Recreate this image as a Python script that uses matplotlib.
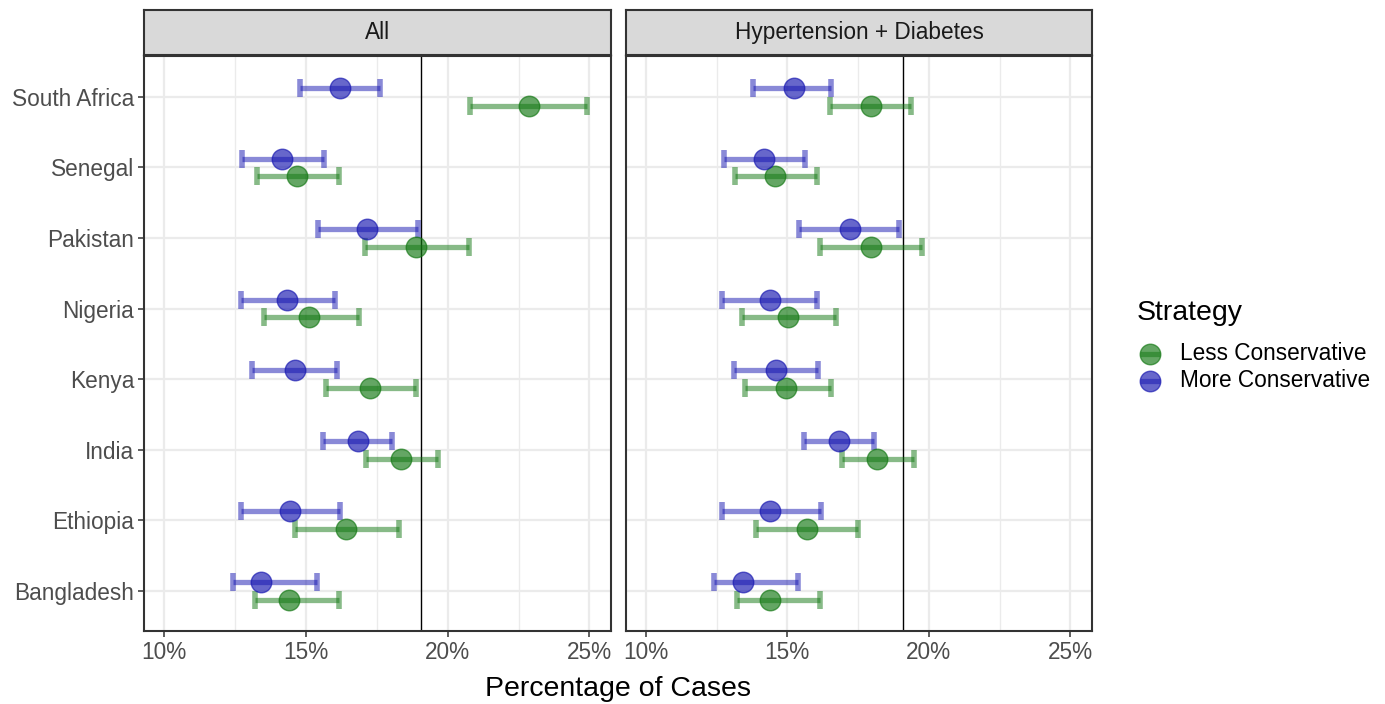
import matplotlib
matplotlib.use('Agg')
import matplotlib.pyplot as plt
from matplotlib.lines import Line2D
from matplotlib.ticker import FuncFormatter, MultipleLocator
import numpy as np

plt.rcParams['font.family'] = ['Liberation Sans', 'DejaVu Sans']

countries = ["Bangladesh", "Ethiopia", "India", "Kenya", "Nigeria",
             "Pakistan", "Senegal", "South Africa"]
panels = ["All", "Hypertension + Diabetes"]
strategies = ["Less Conservative", "More Conservative"]
threshold = 19.07  # percent

# panel "All"
all_more_est = [13.43, 14.46, 16.83, 14.62, 14.33, 17.17, 14.17, 16.21]
all_more_lo = [12.45, 12.72, 15.60, 13.12, 12.72, 15.43, 12.77, 14.81]
all_more_hi = [15.39, 16.21, 18.03, 16.11, 16.04, 18.96, 15.64, 17.62]
all_less_est = [14.40, 16.43, 18.35, 17.28, 15.13, 18.87, 14.68, 22.86]
all_less_lo = [13.22, 14.63, 17.13, 15.70, 13.52, 17.08, 13.28, 20.79]
all_less_hi = [16.16, 18.30, 19.65, 18.87, 16.89, 20.74, 16.16, 24.91]

# panel "Hypertension + Diabetes"
hd_more_est = [13.42, 14.38, 16.82, 14.61, 14.38, 17.21, 14.16, 15.22]
hd_more_lo = [12.42, 12.70, 15.58, 13.10, 12.70, 15.42, 12.76, 13.77]
hd_more_hi = [15.36, 16.19, 18.06, 16.09, 16.03, 18.94, 15.63, 16.54]
hd_less_est = [14.38, 15.69, 18.16, 14.95, 15.01, 17.95, 14.55, 17.95]
hd_less_lo = [13.21, 13.89, 16.94, 13.49, 13.39, 16.15, 13.16, 16.49]
hd_less_hi = [16.15, 17.50, 19.47, 16.54, 16.71, 19.74, 16.03, 19.36]

GREEN = '#117711'
BLUE = '#1515B0'
DODGE = 0.125
TICK_FS = 16.3
TITLE_FS = 20.5

panel_data = [
    ((all_less_est, all_less_lo, all_less_hi), (all_more_est, all_more_lo, all_more_hi)),
    ((hd_less_est, hd_less_lo, hd_less_hi), (hd_more_est, hd_more_lo, hd_more_hi)),
]

fig = plt.figure(figsize=(13.85, 7.04), dpi=100)
W, H = 1385.0, 704.0
panel_px = [(144, 611), (626, 1092)]
top_px, bot_px = 56, 631
strip_top = 10

y = np.arange(1, len(countries) + 1)

def draw_series(ax, est, lo, hi, offset, color):
    est = np.array(est)
    xerr = [est - np.array(lo), np.array(hi) - est]
    ax.errorbar(est, y + offset, xerr=xerr, fmt='none', ecolor=color,
                elinewidth=3.8, capsize=6.3, capthick=4.0, alpha=0.5, zorder=3)
    ax.plot(est, y + offset, 'o', markersize=14.8, color=color,
            markeredgewidth=1.0, alpha=0.65, zorder=4, linestyle='none')

for i, (x0, x1) in enumerate(panel_px):
    ax = fig.add_axes([x0 / W, 1 - bot_px / H, (x1 - x0) / W, (bot_px - top_px) / H])
    less, more = panel_data[i]
    ax.axvline(threshold, color='black', linewidth=1.0, zorder=2)
    draw_series(ax, *less, -DODGE, GREEN)
    draw_series(ax, *more, DODGE, BLUE)

    ax.set_xlim(9.3, 25.76)
    ax.set_ylim(0.43, 8.58)
    ax.xaxis.set_major_locator(MultipleLocator(5))
    ax.xaxis.set_minor_locator(MultipleLocator(2.5))
    ax.xaxis.set_major_formatter(FuncFormatter(lambda v, p: f"{v:.0f}%"))
    ax.set_yticks(y)
    ax.grid(which='major', color='#EBEBEB', linewidth=1.6, zorder=0)
    ax.grid(which='minor', axis='x', color='#EBEBEB', linewidth=1.0, zorder=0)
    ax.set_axisbelow(True)
    ax.tick_params(which='major', length=4, width=1.1, color='#333333',
                   labelsize=TICK_FS, labelcolor='#4D4D4D', pad=3)
    ax.tick_params(which='minor', length=0)
    if i == 0:
        ax.set_yticklabels(countries)
    else:
        ax.set_yticklabels([])
        ax.tick_params(axis='y', length=0)
    for s in ax.spines.values():
        s.set_color('#333333')
        s.set_linewidth(1.5)

    sax = fig.add_axes([x0 / W, 1 - (top_px - 1) / H, (x1 - x0) / W, (top_px - 1 - strip_top) / H])
    sax.set_facecolor('#D9D9D9')
    sax.set_xticks([])
    sax.set_yticks([])
    for s in sax.spines.values():
        s.set_color('#333333')
        s.set_linewidth(1.5)
    sax.text(0.5, 0.5, panels[i], ha='center', va='center', fontsize=TICK_FS,
             color='#1A1A1A', transform=sax.transAxes)

fig.text(618 / W, 1 - 689 / H, "Percentage of Cases", ha='center', va='center',
         fontsize=TITLE_FS, color='black')

# legend drawn by hand so the spacing follows ggplot's
fig.text(1137 / W, 1 - 313 / H, "Strategy", ha='left', va='center',
         fontsize=TITLE_FS, color='black')
for j, (lab, col) in enumerate(zip(strategies, [GREEN, BLUE])):
    ky = 1 - (354 + 27 * j) / H
    fig.add_artist(Line2D([1140 / W, 1160 / W], [ky, ky], transform=fig.transFigure,
                          color=col, linewidth=3.8, alpha=0.5, solid_capstyle='butt'))
    fig.add_artist(Line2D([1150 / W], [ky], transform=fig.transFigure, marker='o',
                          markersize=14.8, color=col, markeredgewidth=1.0,
                          alpha=0.65, linestyle='none'))
    fig.text(1180 / W, ky, lab, ha='left', va='center', fontsize=TICK_FS, color='black')

fig.savefig("out.png", dpi=100)
